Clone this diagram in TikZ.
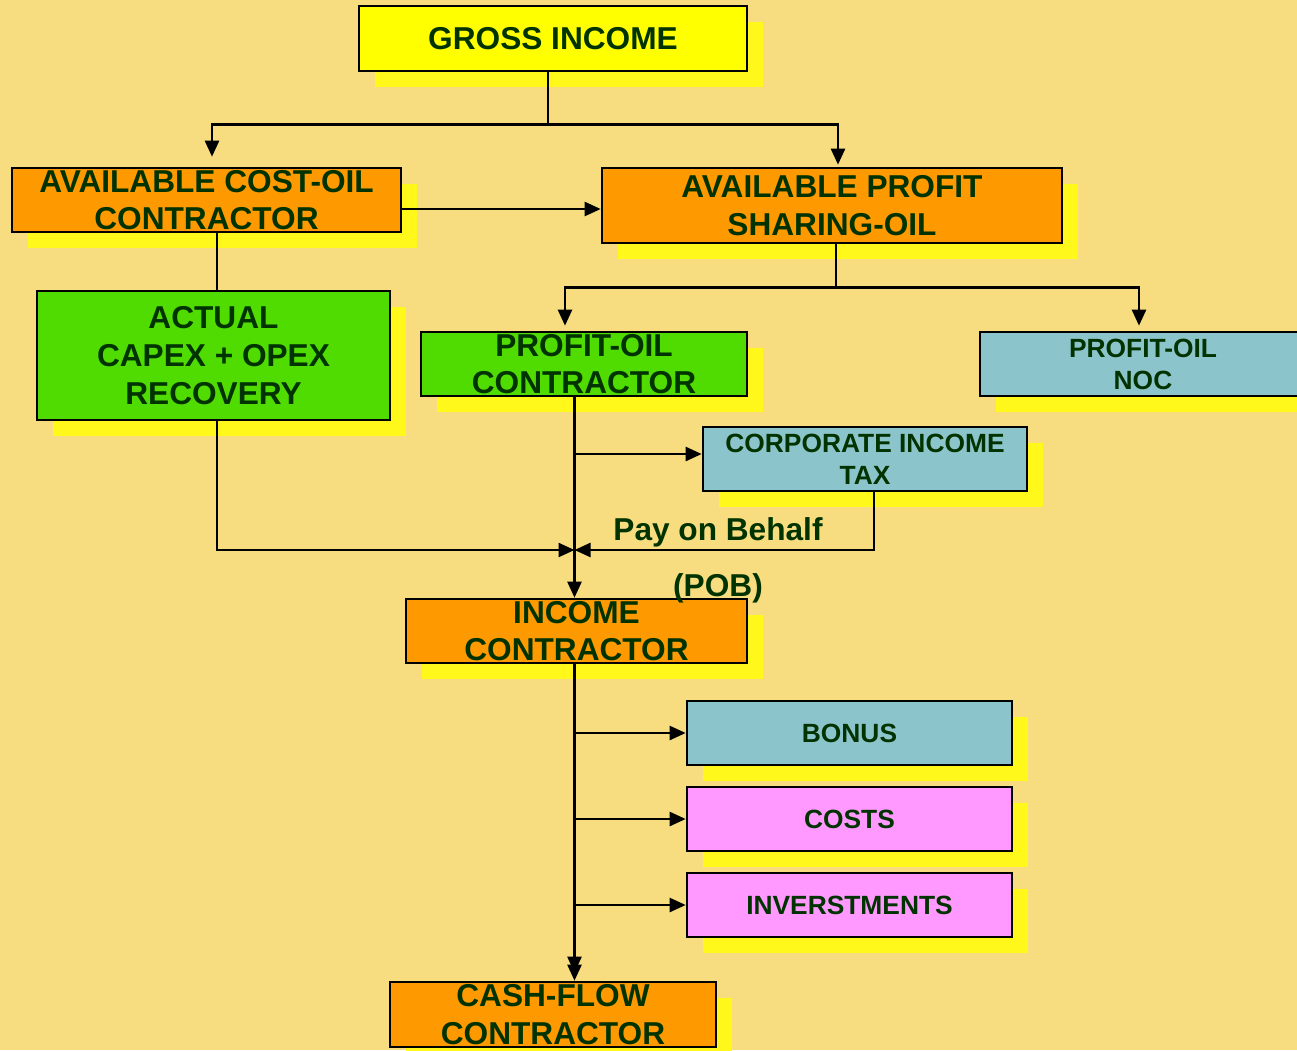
\documentclass[tikz,border=0pt]{standalone}
\usepackage{fontspec}
\setmainfont{Liberation Sans}
\usepackage{tikz}
\usetikzlibrary{arrows.meta}
\usetikzlibrary{shadows,calc}
\definecolor{bgsand}{RGB}{247,220,128}
\definecolor{boxyellow}{RGB}{255,255,0}
\definecolor{shadowyellow}{RGB}{255,248,26}
\definecolor{boxorange}{RGB}{255,153,0}
\definecolor{boxgreen}{RGB}{80,220,0}
\definecolor{boxblue}{RGB}{140,196,204}
\definecolor{boxpink}{RGB}{255,153,255}
\definecolor{textgreen}{RGB}{0,51,0}

\begin{document}
\begin{tikzpicture}[x=0.2mm, y=-0.2mm,
                box/.style = {draw, line width=1.5pt, inner sep=0pt, align=center,
                    text=textgreen, font=\bfseries\fontsize{18}{21.5}\selectfont,
                    drop shadow={shadow xshift=3.2mm, shadow yshift=-3.2mm,
                        fill=shadowyellow, opacity=1}},
                small/.style = {font=\bfseries\fontsize{15}{18.2}\selectfont},
                arr/.style = {line width=1.4pt, -{Triangle[length=3.2mm, width=2.8mm]}},
                plain/.style = {line width=1.4pt},
                lbl/.style = {text=textgreen, font=\bfseries\fontsize{18}{21}\selectfont}
                ]
                \useasboundingbox[fill=bgsand] (0,0) rectangle (1297,1050);

                % boxes
                \node[box, fill=boxyellow, minimum width=7.76cm, minimum height=1.3cm]
                    (gross) at (553,38.5) {GROSS INCOME};
                \node[box, fill=boxorange, minimum width=7.78cm, minimum height=1.28cm]
                    (costoil) at (206.5,200) {AVAILABLE COST-OIL\\CONTRACTOR};
                \node[box, fill=boxorange, minimum width=9.2cm, minimum height=1.5cm]
                    (profshare) at (832,205.5) {AVAILABLE PROFIT\\SHARING-OIL};
                \node[box, fill=boxgreen, minimum width=7.06cm, minimum height=2.58cm]
                    (actual) at (213.5,355.5) {ACTUAL\\CAPEX + OPEX\\RECOVERY};
                \node[box, fill=boxgreen, minimum width=6.52cm, minimum height=1.28cm]
                    (pocontr) at (584,364) {PROFIT-OIL\\CONTRACTOR};
                \node[box, small, fill=boxblue, minimum width=6.52cm, minimum height=1.28cm]
                    (ponoc) at (1143,364) {PROFIT-OIL\\NOC};
                \node[box, small, fill=boxblue, minimum width=6.48cm, minimum height=1.28cm]
                    (cit) at (865,459) {CORPORATE INCOME\\TAX};
                \node[box, fill=boxorange, minimum width=6.82cm, minimum height=1.28cm]
                    (income) at (576.5,631) {INCOME\\CONTRACTOR};
                \node[box, small, fill=boxblue, minimum width=6.5cm, minimum height=1.28cm]
                    (bonus) at (849.5,733) {BONUS};
                \node[box, small, fill=boxpink, minimum width=6.5cm, minimum height=1.28cm]
                    (costs) at (849.5,819) {COSTS};
                \node[box, small, fill=boxpink, minimum width=6.5cm, minimum height=1.28cm]
                    (invest) at (849.5,905) {INVERSTMENTS};
                \node[box, fill=boxorange, minimum width=6.52cm, minimum height=1.3cm]
                    (cashflow) at (553,1014.5) {CASH-FLOW\\CONTRACTOR};

                \coordinate (pob) at (574.5,550);
                \node[lbl] (pobtext) at (718,532) {Pay on Behalf};
                \node[lbl] (pobabbr) at (718,588) {(POB)};

                % connectors
                \draw[arr, shorten >=2mm] ([xshift=-1mm]gross.south) -- ++(0,52) -| ([xshift=1.1mm]costoil.north);
                \draw[arr, shorten >=0.4mm] ([xshift=-1mm]gross.south) -- ++(0,52) -| ([xshift=1.2mm]profshare.north);
                \draw[arr] ([yshift=-1.8mm]costoil.east) -- ([yshift=-1.8mm]costoil.east -| profshare.west);
                \draw[arr, shorten >=1mm] ([xshift=0.8mm]profshare.south) -- ++(0,43) -| ([xshift=-3.8mm]pocontr.north);
                \draw[arr, shorten >=1mm] ([xshift=0.8mm]profshare.south) -- ++(0,43) -| ([xshift=-0.8mm]ponoc.north);
                \draw[plain] ([xshift=0.7mm]actual.north |- costoil.south) -- ([xshift=0.7mm]actual.north);
                \draw[arr] ([xshift=0.7mm]actual.south) |- (pob);
                \draw[arr] ([xshift=1.8mm]cit.south) |- (pob);
                \draw[arr] (pob |- pocontr.south) -- (pob |- income.north);
                \draw[arr] ([yshift=1mm]cit.west -| pob) -- ([yshift=1mm]cit.west);
                \draw[line width=1.4pt, -{Triangle[length=3.2mm, width=2.8mm, sep=-1.6mm]Triangle[length=3.2mm, width=2.8mm]}]
                    (pob |- income.south) -- (pob |- cashflow.north);
                \draw[arr] (bonus.west -| pob) -- (bonus.west);
                \draw[arr] (costs.west -| pob) -- (costs.west);
                \draw[arr] (invest.west -| pob) -- (invest.west);
            \end{tikzpicture}
\end{document}
